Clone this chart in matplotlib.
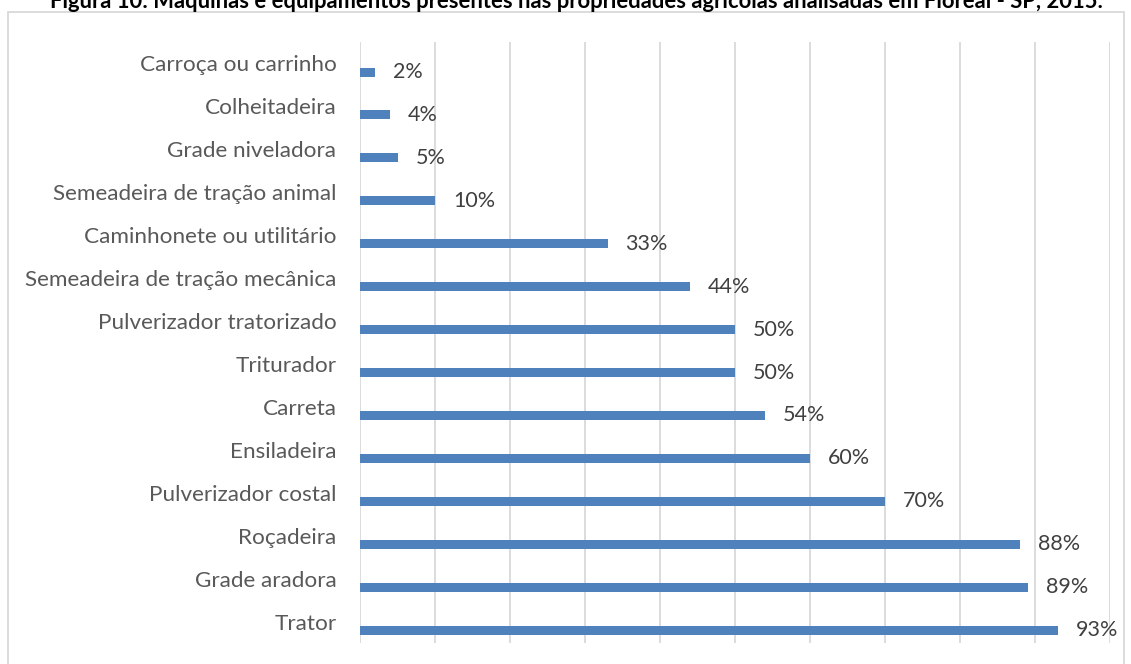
import matplotlib.pyplot as plt
from matplotlib.patches import Rectangle

equipamentos = [
    "Trator", "Grade aradora", "Roçadeira", "Pulverizador costal", "Ensiladeira",
    "Carreta", "Triturador", "Pulverizador tratorizado", "Semeadeira de tração mecânica",
    "Caminhonete ou utilitário", "Semeadeira de tração animal", "Grade niveladora",
    "Colheitadeira", "Carroça ou carrinho",
]
percentuais = [93, 89, 88, 70, 60, 54, 50, 50, 44, 33, 10, 5, 4, 2]

titulo = ("Figura 10: Máquinas e equipamentos presentes nas propriedades agrícolas "
          "analisadas em Floreal - SP, 2015.")

plt.rcParams['font.family'] = ['Lato', 'DejaVu Sans']

fig = plt.figure(figsize=(11.31, 6.64), dpi=100)
ax = fig.add_axes([360 / 1131, 1 - 643 / 664, 750 / 1131, 601 / 664])

pos = list(range(len(equipamentos)))
ax.barh([p - 0.2 for p in pos], percentuais, height=0.21, color='#4f81bd', zorder=3)

for p, v in zip(pos, percentuais):
    ax.annotate(f"{v}%", (v, p - 0.2), xytext=(13, 0), textcoords='offset points',
                ha='left', va='center', fontsize=15.5, color='#404040')

ax.set_xlim(0, 100)
ax.set_ylim(-0.5, len(equipamentos) - 0.5)
ax.set_xticks(range(0, 101, 10))
ax.set_xticklabels([])
ax.tick_params(axis='x', length=0)
ax.set_yticks(pos)
ax.set_yticklabels(equipamentos, fontsize=16.2, color='#595959')
ax.tick_params(axis='y', length=0, pad=17)
ax.grid(axis='x', color='#d9d9d9', linewidth=1.3, zorder=0)
for s in ax.spines.values():
    s.set_visible(False)

# moldura externa do gráfico
fig.patches.append(Rectangle((8 / 1131, -0.05), 1116 / 1131, 1.05 - 12 / 664,
                             transform=fig.transFigure, fill=False,
                             edgecolor='#d9d9d9', linewidth=1.3))

fig.text(576 / 1131, 1 - 1 / 664, titulo, ha='center', va='center',
         fontsize=15.8, fontweight='bold', color='black')

fig.savefig('out.png', dpi=100)
